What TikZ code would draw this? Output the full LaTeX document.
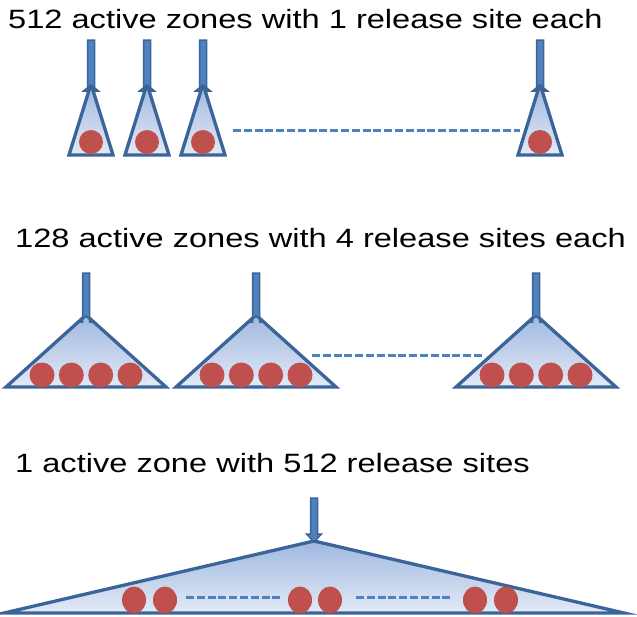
\documentclass[tikz,border=0pt]{standalone}
\usepackage{fontspec}
\setmainfont{Liberation Sans}[FakeStretch=1.23]
\definecolor{edgeblue}{HTML}{3B6498}
\definecolor{arrowblue}{HTML}{4F81BD}
\definecolor{topfill}{HTML}{9FB8E0}
\definecolor{botfill}{HTML}{E3EAF6}
\definecolor{siteRed}{HTML}{C0504D}
\tikzset{
  zone/.style={draw=edgeblue, line width=3.3pt, line join=miter, top color=topfill, bottom color=botfill},
  site/.style={fill=siteRed, draw=none},
  dots/.style={draw=arrowblue, line width=3pt, dash pattern=on 8pt off 2.8pt},
  label/.style={anchor=base west, font=\fontsize{26.5}{30}\selectfont, inner sep=0pt},
  inarrow/.style={fill=arrowblue, draw=edgeblue, line width=1.5pt, line join=miter}
}
% #1 apex x, #2 apex y, #3 half width, #4 base y, #5 arrow top y
\newcommand\zoneshape[5]{%
  \path[zone] (#1,#2) -- (#1+#3,#4) -- (#1-#3,#4) -- cycle;
  \path[inarrow] (#1-3.5,#5) -- (#1+3.5,#5) -- (#1+3.5,#2+7) -- (#1+7.5,#2+7) -- (#1,#2+1) -- (#1-7.5,#2+7) -- (#1-3.5,#2+7) -- cycle;
}
\begin{document}
\begin{tikzpicture}[x=1pt,y=-1pt]
\useasboundingbox (0,0) rectangle (637,616);
% Row 1
\node[label] (t1) at (8,28) {512 active zones with 1 release site each};
\foreach \x in {91,147,203,540} {
  \zoneshape{\x}{84}{22}{155}{40}
  \fill[siteRed] (\x,142) circle (12);
}
\coordinate (d1a) at (233,130);
\coordinate (d1b) at (520,130);
\draw[dots] (d1a) -- (d1b);
% Row 2
\node[label] (t2) at (15,247) {128 active zones with 4 release sites each};
\foreach \x in {86,256,536} {
  \zoneshape{\x}{315}{80}{387}{273}
  \foreach \o in {-44,-14.7,14.7,44} \fill[siteRed] (\x+\o,375) circle (12.5);
}
\coordinate (d2a) at (312,355);
\coordinate (d2b) at (482,355);
\draw[dots] (d2a) -- (d2b);
% Row 3
\node[label] (t3) at (15,472) {1 active zone with 512 release sites};
\path[zone] (314,541) -- (624,613) -- (4,613) -- cycle;
\path[inarrow] (310.5,498) -- (317.5,498) -- (317.5,534) -- (321.5,534) -- (314,542) -- (306.5,534) -- (310.5,534) -- cycle;
\foreach \x in {134,165,300,330,475,506} \fill[siteRed] (\x,600) ellipse (12 and 13.5);
\coordinate (d3a) at (186,597);
\coordinate (d3b) at (283,597);
\coordinate (d3c) at (356,597);
\coordinate (d3d) at (453,597);
\draw[dots] (d3a) -- (d3b);
\draw[dots] (d3c) -- (d3d);
\end{tikzpicture}
\end{document}
